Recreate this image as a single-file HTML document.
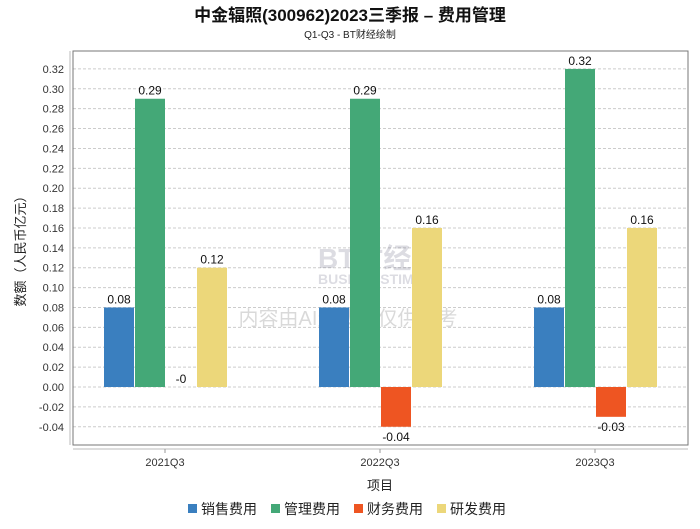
<!DOCTYPE html>
<html><head><meta charset="utf-8"><style>
body{margin:0;background:#fff;font-family:"Liberation Sans","Noto Sans CJK SC",sans-serif;}
svg text{font-family:"Liberation Sans","Noto Sans CJK SC",sans-serif;}
</style></head><body>
<svg id="chart" width="700" height="524" xmlns="http://www.w3.org/2000/svg">
<text x="350" y="21" text-anchor="middle" font-size="17" font-weight="bold" fill="#111">中金辐照(300962)2023三季报 – 费用管理</text>
<text x="350" y="38" text-anchor="middle" font-size="10" fill="#222">Q1-Q3 - BT财经绘制</text>
<g id="grid"></g>
<rect x="73" y="51" width="615" height="394" fill="none" stroke="#777" stroke-width="1"/>
<line x1="70" y1="51" x2="70" y2="445" stroke="#bbb"/>
<line x1="73" y1="449" x2="688" y2="449" stroke="#bbb"/>
<g opacity="0.18">
<text x="318" y="268" font-size="28" font-family="Liberation Serif" fill="#446" font-weight="bold">BT财经</text>
<text x="318" y="284" font-size="14" fill="#446" font-weight="bold">BUSINESSTIMES</text>
<text x="348" y="325" text-anchor="middle" font-size="20" fill="#333">内容由AI生成，仅供参考</text>
</g>
<g id="bars"></g>
<text transform="translate(25,248) rotate(-90)" text-anchor="middle" font-size="13" fill="#222">数额（人民币亿元）</text>
<text x="380" y="490" text-anchor="middle" font-size="13" fill="#222">项目</text>
<g id="legend"></g>
</svg>
<script>
const categories=["2021Q3","2022Q3","2023Q3"];
const seriesNames=["销售费用","管理费用","财务费用","研发费用"];
const colors=["#3a7fbf","#44a877","#ee5522","#ecd77a"];
const sales=[0.08,0.08,0.08];
const admin=[0.29,0.29,0.32];
const finance=[0,-0.04,-0.03];
const rnd=[0.12,0.16,0.16];
const labels=[["0.08","0.08","0.08"],["0.29","0.29","0.32"],["-0","-0.04","-0.03"],["0.12","0.16","0.16"]];
const yTicks=[-0.04,-0.02,0,0.02,0.04,0.06,0.08,0.10,0.12,0.14,0.16,0.18,0.20,0.22,0.24,0.26,0.28,0.30,0.32];
const NS="http://www.w3.org/2000/svg";
const y=v=>387-v*994;
const xc=i=>165+i*215;
function mk(t,a,p){const e=document.createElementNS(NS,t);for(const k in a)e.setAttribute(k,a[k]);p.appendChild(e);return e;}
const grid=document.getElementById('grid');
yTicks.forEach(t=>{
 const l=mk('line',{x1:73,x2:688,y1:y(t),y2:y(t),stroke:'#ccc','stroke-dasharray':'3,2'},grid);
 
 
 const tx=mk('text',{x:64,y:y(t)+4,'text-anchor':'end','font-size':11,fill:'#333'},grid);
 tx.textContent=t.toFixed(2);
 
 
});
const bars=document.getElementById('bars');
const series=[sales,admin,finance,rnd];
categories.forEach((c,i)=>{
 series.forEach((s,j)=>{
  const v=s[i];const x0=xc(i)-61+j*31;
  const top=Math.min(y(v),y(0)),h=Math.abs(y(v)-y(0));
  const r=mk('rect',{x:x0,y:top,width:30,height:h,fill:colors[j]},bars);
  
  
  const ly=v>=0?y(v)-4:y(v)+14;
  const t=mk('text',{x:x0+15,y:ly,'text-anchor':'middle','font-size':12,fill:'#111'},bars);
  t.textContent=labels[j][i];
  
  
 });
 const tk=mk('line',{x1:xc(i),x2:xc(i),y1:449,y2:453,stroke:'#999'},bars);
 
 
 const tl=mk('text',{x:xc(i),y:466,'text-anchor':'middle','font-size':11,fill:'#333'},bars);
 tl.textContent=c;
 
 
});
const lg=document.getElementById('legend');
seriesNames.forEach((n,j)=>{
 const x0=188+j*83;
 const r=mk('rect',{x:x0,y:504,width:9,height:9,fill:colors[j]},lg);
 
 
 const t=mk('text',{x:x0+13,y:514,'font-size':14,fill:'#222'},lg);
 t.textContent=n;
 
 
});
</script>
</body></html>
